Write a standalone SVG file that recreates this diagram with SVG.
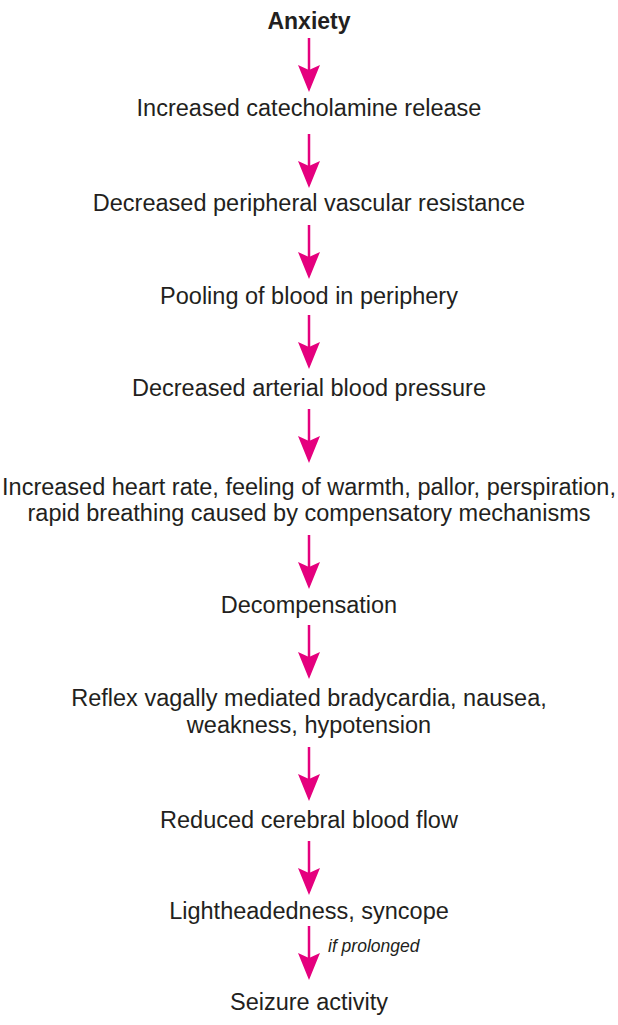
<svg xmlns="http://www.w3.org/2000/svg" width="618" height="1025" viewBox="0 0 618 1025">
<style>
text{font-family:"Liberation Sans",Arial,sans-serif;font-size:23.5px;fill:#231f20;text-anchor:middle}
.b{font-weight:bold;font-size:23px}
.i{font-style:italic;font-size:17.5px;text-anchor:start}
.c{stroke:#e5007e;stroke-width:2.5;fill:none}
.h{fill:#e5007e}
</style>
<defs>
<g id="arr"><line class="c" x1="0" y1="0" x2="0" y2="32"/><path class="h" d="M-11,27 L0,54 L11,27 L0,32 Z"/></g>
</defs>
<rect width="618" height="1025" fill="#fff"/>
<g id="connectors">
<use href="#arr" x="309" y="38"/>
<use href="#arr" x="309" y="134"/>
<use href="#arr" x="309" y="225"/>
<use href="#arr" x="309" y="315"/>
<use href="#arr" x="309" y="409"/>
<use href="#arr" x="309" y="535"/>
<use href="#arr" x="309" y="625"/>
<use href="#arr" x="309" y="747"/>
<use href="#arr" x="309" y="841"/>
<use href="#arr" x="309" y="926"/>
<text class="i" x="328" y="952">if prolonged</text>
</g>
<g id="n1"><text class="b" x="309" y="29">Anxiety</text></g>
<g id="n2"><text x="309" y="116">Increased catecholamine release</text></g>
<g id="n3"><text x="309" y="211">Decreased peripheral vascular resistance</text></g>
<g id="n4"><text x="309" y="304">Pooling of blood in periphery</text></g>
<g id="n5"><text x="309" y="396">Decreased arterial blood pressure</text></g>
<g id="n6"><text x="309" y="495">Increased heart rate, feeling of warmth, pallor, perspiration,</text><text x="309" y="521">rapid breathing caused by compensatory mechanisms</text></g>
<g id="n7"><text x="309" y="613">Decompensation</text></g>
<g id="n8"><text x="309" y="706">Reflex vagally mediated bradycardia, nausea,</text><text x="309" y="733">weakness, hypotension</text></g>
<g id="n9"><text x="309" y="828">Reduced cerebral blood flow</text></g>
<g id="n10"><text x="309" y="919">Lightheadedness, syncope</text></g>
<g id="n11"><text x="309" y="1010">Seizure activity</text></g>
</svg>
